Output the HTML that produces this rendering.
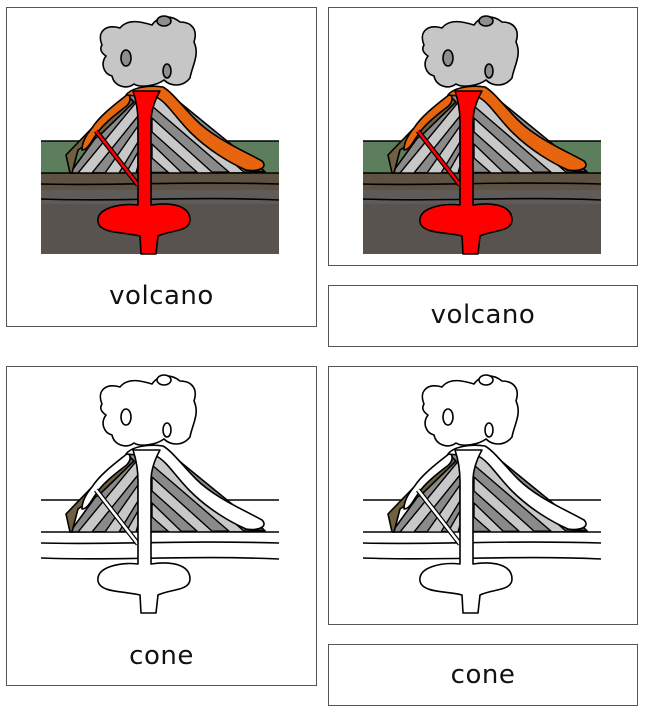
<!DOCTYPE html>
<html><head><style>
body{margin:0;width:650px;height:714px;background:#fff;position:relative;overflow:hidden;font-family:"DejaVu Sans","Liberation Sans",sans-serif}
.b{position:absolute;border:1px solid #555;box-sizing:border-box}
.t{position:absolute;width:100%;text-align:center;font-size:26px;color:#111;letter-spacing:0.5px}
svg{position:absolute;left:0;top:0}
.col{--cloud:#c6c6c6;--oval:#8e8e8e;--lava:#f00;--flow:#e8650f;--green:#5c7e5c;--l1:#5e5343;--l2:#5f5b58;--l3:#58534e}
.out{--cloud:#fff;--oval:#fff;--lava:#fff;--flow:#fff;--green:#fff;--l1:#fff;--l2:#fff;--l3:#fff}
</style></head><body>
<div class="b" style="left:6px;top:7px;width:311px;height:320px"><div class="t" style="top:273px">volcano</div></div>
<div class="b" style="left:328px;top:7px;width:310px;height:259px"></div>
<div class="b" style="left:328px;top:285px;width:310px;height:62px"><div class="t" style="top:14px">volcano</div></div>
<div class="b" style="left:6px;top:366px;width:311px;height:320px"><div class="t" style="top:274px">cone</div></div>
<div class="b" style="left:328px;top:366px;width:310px;height:259px"></div>
<div class="b" style="left:328px;top:644px;width:310px;height:62px"><div class="t" style="top:15px">cone</div></div>
<svg width="650" height="714">
<defs>
<clipPath id="cc"><path d="M40,173 L98,93 L132,88 L235,172Z"/></clipPath>
<symbol id="v" overflow="visible">
<g stroke="#000" stroke-width="1.6" stroke-linejoin="round">
<rect x="11" y="141" width="238" height="32" style="fill:var(--green)" stroke="none"/>
<rect x="11" y="173" width="238" height="17" style="fill:var(--l1)" stroke="none"/>
<rect x="11" y="190" width="238" height="14" style="fill:var(--l2)" stroke="none"/>
<rect x="11" y="204" width="238" height="50" style="fill:var(--l3)" stroke="none"/>
<path d="M11,141 H249 M11,173 H249 M11,184 C80,186 150,181 249,184 M11,199 C90,202 160,196 249,200" fill="none"/>
<path d="M40,173 L98,93 L132,88 L235,172Z" fill="#8a8a8a"/>
<g clip-path="url(#cc)" stroke="#000" stroke-width="1.4" fill="#c8c8c8">
<path d="M122,92 L215,173 L200,173 L122,106Z"/>
<path d="M122,118 L183,173 L168,173 L122,132Z"/>
<path d="M122,144 L152,173 L139,173 L122,158Z"/>
<path d="M108,100 L48,173 L62,173 L108,116Z"/>
<path d="M108,126 L75,173 L89,173 L108,142Z"/>
<path d="M108,152 L96,173 L106,173 L108,166Z"/>
</g>
<path d="M36,155 L62,128 L98,96 L104,102 L70,135 L48,150 L42,173 L40,173Z" fill="#6e6040"/>
<path d="M200,145 L228,165 L235,172 L215,170 L205,160Z" fill="#6e6040"/>
<path d="M62,128 C70,115 88,102 98,94 C102,98 100,104 94,108 C85,115 72,125 66,135 C62,140 58,150 52,150 C52,142 56,135 62,128Z" style="fill:var(--flow)"/>
<path d="M96,95 C102,87 120,85 133,87 C142,92 152,106 166,120 C184,138 212,150 232,161 C238,167 230,172 216,170 C200,163 178,150 160,132 C146,118 138,104 128,98Z" style="fill:var(--flow)"/>
<path d="M66,131 L108,185" stroke="#000" stroke-width="5" fill="none"/>
<path d="M66,131 L108,185" style="stroke:var(--lava)" stroke-width="2.6" fill="none"/>
<path d="M103,91 L130,91 C125,100 121,110 121,122 L121,205 C140,202 160,205 160,220 C160,232 140,230 128,236 L126,254 L111,254 L110,236 C95,232 70,234 68,222 C66,208 90,203 108,205 L108,122 C108,110 106,100 103,91Z" style="fill:var(--lava)"/>
<path d="M72,45 C66,30 78,24 90,28 C98,18 112,22 122,25 C128,16 140,14 150,22 C162,22 168,30 164,42 C170,55 162,66 160,78 C152,88 140,86 134,80 C126,86 110,88 104,84 C96,90 84,86 82,76 C74,74 70,64 76,56 C70,52 70,48 72,45Z" style="fill:var(--cloud)"/>
<ellipse cx="96" cy="58" rx="5" ry="8" style="fill:var(--oval)"/>
<ellipse cx="137" cy="71" rx="4" ry="7" style="fill:var(--oval)"/>
<ellipse cx="134" cy="21" rx="7" ry="5" style="fill:var(--oval)"/>
</g>
</symbol>
</defs>
<g class="col"><use href="#v" x="30" y="0"/><use href="#v" x="352" y="0"/></g>
<g class="out"><use href="#v" x="30" y="359"/><use href="#v" x="352" y="359"/></g>
</svg>
</body></html>
